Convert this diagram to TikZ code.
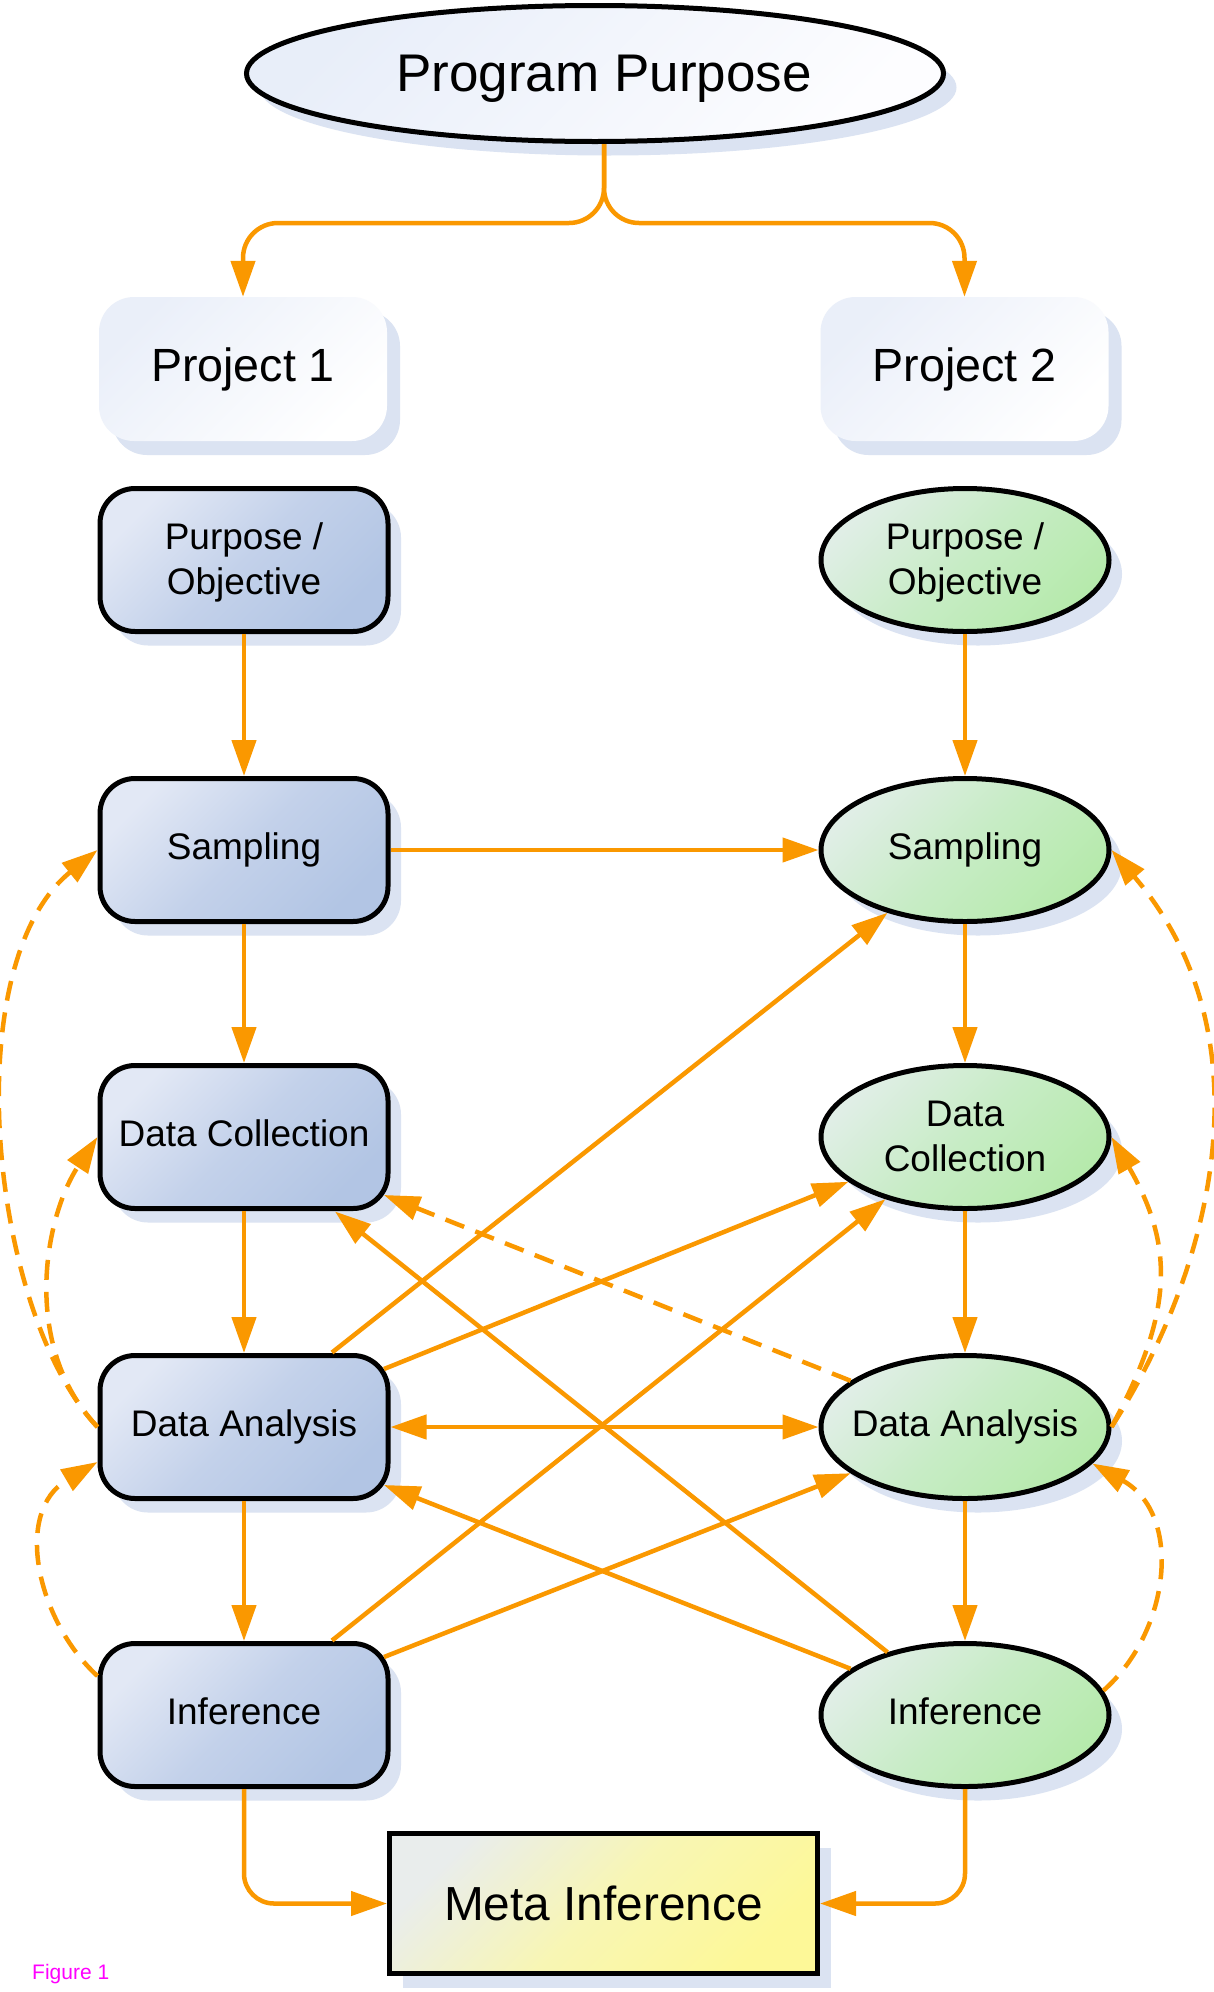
\documentclass[tikz,border=0pt]{standalone}
\usepackage{fontspec}
\setmainfont{Liberation Sans}
\usetikzlibrary{arrows.meta,shadows,calc,shapes.geometric}
\definecolor{orng}{RGB}{250,152,0}
\definecolor{shd}{RGB}{219,227,242}
\definecolor{blueA}{RGB}{226,232,245}
\definecolor{blueM}{RGB}{195,209,234}
\definecolor{blueB}{RGB}{178,197,228}
\definecolor{grnA}{RGB}{224,238,230}
\definecolor{grnM}{RGB}{199,236,197}
\definecolor{grnB}{RGB}{182,234,172}
\definecolor{ylwA}{RGB}{233,237,236}
\definecolor{ylwM}{RGB}{248,246,180}
\definecolor{ylwB}{RGB}{253,248,152}
\definecolor{prjA}{RGB}{234,239,249}
\definecolor{prjB}{RGB}{255,255,255}
\definecolor{ppA}{RGB}{232,238,249}
\definecolor{ppB}{RGB}{253,253,255}
\definecolor{figc}{RGB}{255,0,255}
\newcommand\nodefnt{\fontsize{37pt}{44.5pt}\selectfont}
\begin{document}
\begin{tikzpicture}[x=1pt,y=-1pt,
  shadowed/.style={drop shadow={shadow xshift=13pt,shadow yshift=-14pt,fill=shd,opacity=1}},
  bbox/.style={shape=rectangle,rounded corners=35pt,draw=black,line width=5pt,
    minimum width=288pt,minimum height=143pt,inner sep=0pt,align=center,font=\nodefnt,
    text height=26.5pt,text depth=7.5pt,
    top color=blueA,bottom color=blueB,middle color=blueM,shading angle=45,shadowed},
  gell/.style={ellipse,draw=black,line width=5pt,
    minimum width=288pt,minimum height=143pt,inner xsep=-60pt,inner ysep=-40pt,align=center,font=\nodefnt,
    text height=26.5pt,text depth=7.5pt,
    top color=grnA,bottom color=grnB,middle color=grnM,shading angle=45,shadowed},
  twoline/.style={text height=75pt,text depth=7pt},
  prj/.style={shape=rectangle,rounded corners=35pt,minimum width=288pt,minimum height=144pt,
    inner sep=0pt,font=\fontsize{46.6pt}{52pt}\selectfont,
    top color=prjA,bottom color=prjB,shading angle=45,shadowed},
  ppell/.style={ellipse,draw=black,line width=5pt,minimum width=697pt,minimum height=136pt,
    inner sep=0pt,font=\fontsize{53pt}{60pt}\selectfont,text height=38pt,text depth=3pt,
    top color=ppA,bottom color=ppB,shading angle=45,shadowed},
  metabox/.style={shape=rectangle,draw=black,line width=5pt,minimum width=428pt,minimum height=140pt,
    inner sep=0pt,font=\fontsize{47.8pt}{54pt}\selectfont,
    top color=ylwA,bottom color=ylwB,middle color=ylwM,shading angle=45,shadowed},
  conn/.style={draw=orng,line width=4.5pt,-{Triangle[length=36pt,width=24pt]}},
  dconn/.style={conn,dash pattern=on 20pt off 12pt},
  both/.style={{Triangle[length=36pt,width=24pt]}-{Triangle[length=36pt,width=24pt]}}
]
\useasboundingbox[fill=white] (0,0) rectangle (1214,1992);

% nodes
\node[ppell] (pp) at (595,73.5) {\hspace*{18pt}Program Purpose};
\node[prj] (p1) at (243,369) {Project 1};
\node[prj] (p2) at (964.5,369) {Project 2};
\node[bbox,twoline] (pl) at (244,560) {Purpose /\\Objective};
\node[gell,twoline] (pr) at (965,560) {Purpose /\\Objective};
\node[bbox] (sl) at (244,850) {Sampling};
\node[gell] (sr) at (965,850) {Sampling};
\node[bbox] (dcl) at (244,1137) {Data Collection};
\node[gell,twoline] (dcr) at (965,1137) {Data\\Collection};
\node[bbox] (dal) at (244,1427) {Data Analysis};
\node[gell] (dar) at (965,1427) {Data Analysis};
\node[bbox] (il) at (244,1715) {Inference};
\node[gell] (ir) at (965,1715) {Inference};
\node[metabox] (mi) at (603.5,1903.5) {Meta Inference};
\node[anchor=base west,inner sep=0pt,text=figc,font=\fontsize{21pt}{25pt}\selectfont] (fig) at (32,1979) {Figure 1};

% top split
\coordinate (ppb) at ($(pp.south)+(9,0)$);
\draw[conn,rounded corners=35pt] (ppb) -- ++(0,79) -| (p1.north);
\draw[conn,rounded corners=35pt] (ppb) -- ++(0,79) -| (p2.north);

% columns
\draw[conn] (pl) -- (sl);
\draw[conn] (sl) -- (dcl);
\draw[conn] (dcl) -- (dal);
\draw[conn] (dal) -- (il);
\draw[conn] (pr) -- (sr);
\draw[conn] (sr) -- (dcr);
\draw[conn] (dcr) -- (dar);
\draw[conn] (dar) -- (ir);

% horizontals
\draw[conn] (sl) -- (sr);
\draw[conn,both] (dal) -- (dar);

% meta inference
\draw[conn,rounded corners=30pt] (il.south) |- (mi.west);
\draw[conn,rounded corners=30pt] (ir.south) |- (mi.east);

% diagonals
\draw[conn] ($(dal)+(88,-74.5)$) -- (sr.219);
\draw[conn] ($(dal)+(140,-58)$) -- (dcr.201);
\draw[conn] ($(il)+(88,-74.5)$) -- (dcr.218);
\draw[conn] ($(il)+(140,-58)$) -- (dar.202);
\draw[conn] (ir.141) -- ($(dcl)+(91,74.5)$);
\draw[conn] (ir.158) -- ($(dal)+(140,58)$);
\draw[dconn] (dar.158) -- ($(dcl)+(140,58)$);

% dashed feedback curves
\draw[dconn] (dal.west) .. controls +(-108,-115) and +(-142,115) .. (sl.west);
\draw[dconn] (dal.west) .. controls +(-77,-81) and +(-53,80) .. (dcl.west);
\draw[dconn] ($(il)+(-146.5,-39)$) .. controls +(-60,-55) and +(-85,50) .. ($(dal)+(-146.5,35)$);
\draw[dconn] (dar.east) .. controls +(102,-159) and +(159,186) .. (sr.east);
\draw[dconn] (dar.east) .. controls +(61,-113) and +(64,111) .. (dcr.east);
\draw[dconn] (ir.10) .. controls +(67,-59) and +(91,51) .. (dar.-16);
\end{tikzpicture}
\end{document}
